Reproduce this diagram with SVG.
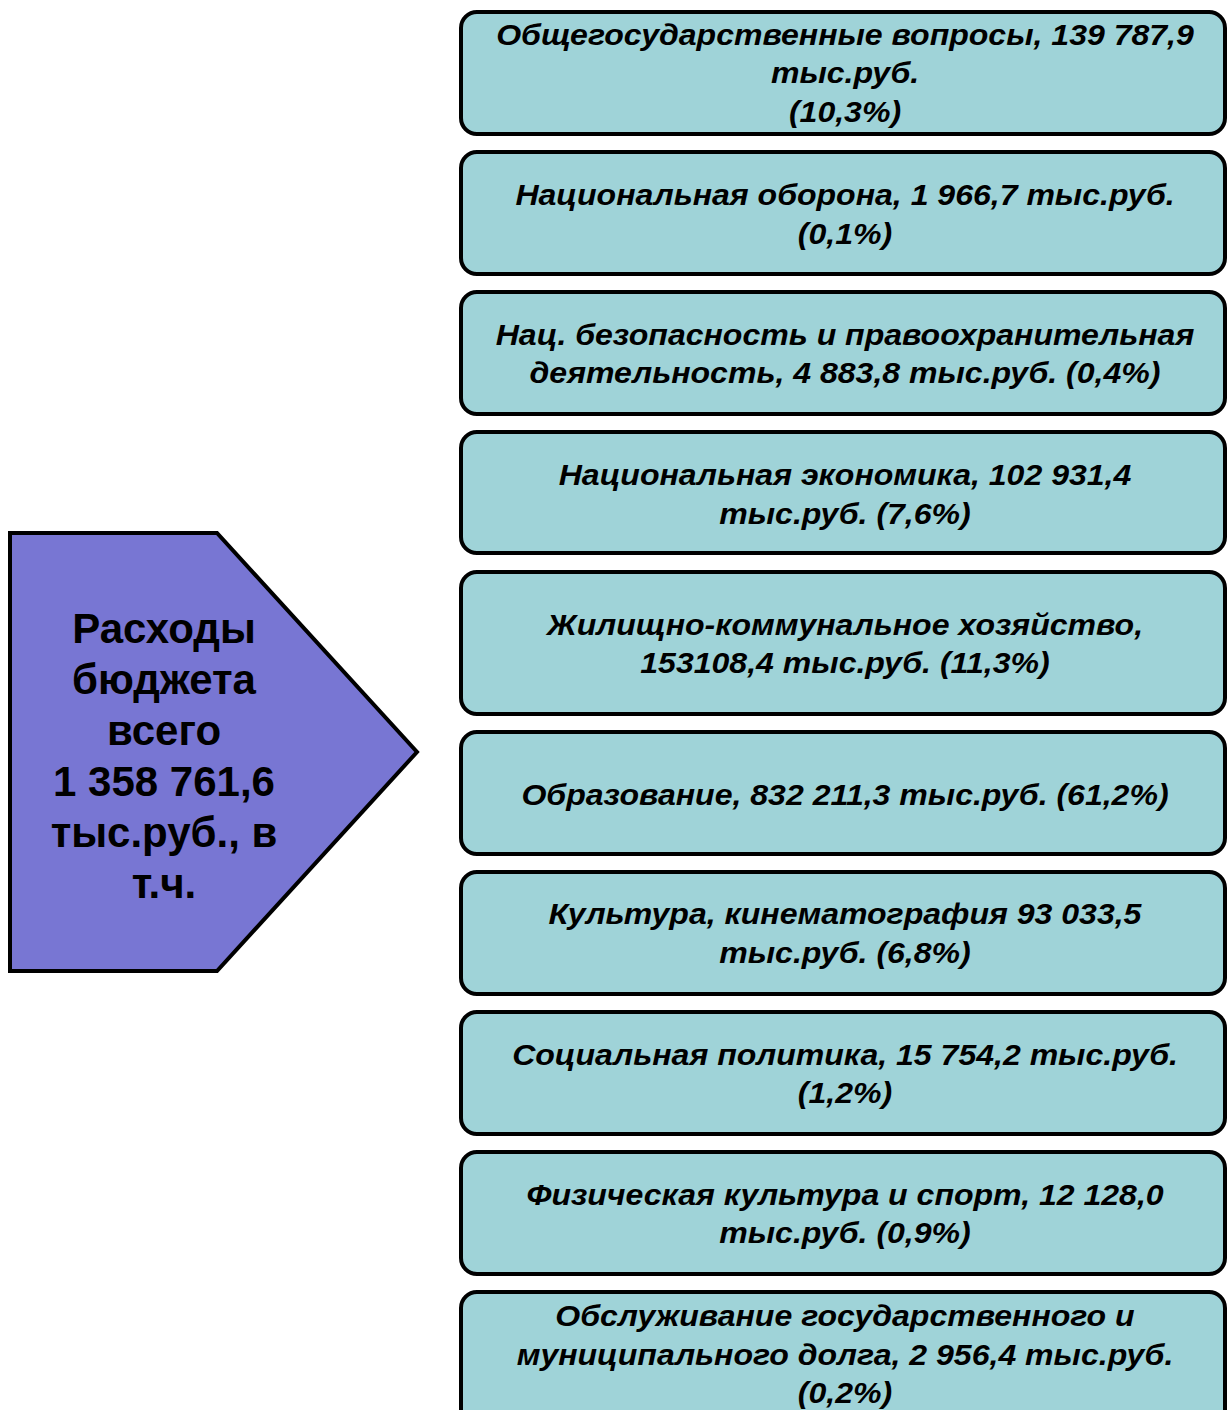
<svg xmlns="http://www.w3.org/2000/svg" width="1227" height="1410" viewBox="0 0 1227 1410">
<style>
.box{fill:#9fd3d8;stroke:#000;stroke-width:4}
.t{font-family:"Liberation Sans",Arial,sans-serif;font-weight:bold;font-style:italic;font-size:29px;fill:#000;text-anchor:middle}
.m{font-family:"Liberation Sans",Arial,sans-serif;font-weight:bold;font-size:42px;fill:#000;text-anchor:middle}
</style>
<rect width="1227" height="1410" fill="#fff"/>
<g id="total">
<polygon points="10,533 217,533 417,752 217,971 10,971" fill="#7876d3" stroke="#000" stroke-width="4"/>
<text class="m" x="164" y="643">Расходы</text>
<text class="m" x="164" y="694">бюджета</text>
<text class="m" x="164" y="745">всего</text>
<text class="m" x="164" y="796">1 358 761,6</text>
<text class="m" x="164" y="847">тыс.руб., в</text>
<text class="m" x="164" y="898">т.ч.</text>
</g>
<g id="connectors"></g>
<g id="n1"><rect class="box" x="461" y="12" width="764" height="122" rx="16"/>
<g transform="translate(845 0) scale(1.105 1)">
<text class="t" x="0" y="45">Общегосударственные вопросы, 139 787,9</text>
<text class="t" x="0" y="83">тыс.руб.</text>
<text class="t" x="0" y="122">(10,3%)</text></g></g>
<g id="n2"><rect class="box" x="461" y="152" width="764" height="122" rx="16"/>
<g transform="translate(845 0) scale(1.105 1)">
<text class="t" x="0" y="205">Национальная оборона, 1 966,7 тыс.руб.</text>
<text class="t" x="0" y="244">(0,1%)</text></g></g>
<g id="n3"><rect class="box" x="461" y="292" width="764" height="122" rx="16"/>
<g transform="translate(845 0) scale(1.105 1)">
<text class="t" x="0" y="345">Нац. безопасность и правоохранительная</text>
<text class="t" x="0" y="383">деятельность, 4 883,8 тыс.руб. (0,4%)</text></g></g>
<g id="n4"><rect class="box" x="461" y="432" width="764" height="121" rx="16"/>
<g transform="translate(845 0) scale(1.105 1)">
<text class="t" x="0" y="485">Национальная экономика, 102 931,4</text>
<text class="t" x="0" y="524">тыс.руб. (7,6%)</text></g></g>
<g id="n5"><rect class="box" x="461" y="572" width="764" height="142" rx="16"/>
<g transform="translate(845 0) scale(1.105 1)">
<text class="t" x="0" y="635">Жилищно-коммунальное хозяйство,</text>
<text class="t" x="0" y="673">153108,4 тыс.руб. (11,3%)</text></g></g>
<g id="n6"><rect class="box" x="461" y="732" width="764" height="122" rx="16"/>
<g transform="translate(845 0) scale(1.105 1)">
<text class="t" x="0" y="805">Образование, 832 211,3 тыс.руб. (61,2%)</text></g></g>
<g id="n7"><rect class="box" x="461" y="872" width="764" height="122" rx="16"/>
<g transform="translate(845 0) scale(1.105 1)">
<text class="t" x="0" y="924">Культура, кинематография 93 033,5</text>
<text class="t" x="0" y="963">тыс.руб. (6,8%)</text></g></g>
<g id="n8"><rect class="box" x="461" y="1012" width="764" height="122" rx="16"/>
<g transform="translate(845 0) scale(1.105 1)">
<text class="t" x="0" y="1065">Социальная политика, 15 754,2 тыс.руб.</text>
<text class="t" x="0" y="1103">(1,2%)</text></g></g>
<g id="n9"><rect class="box" x="461" y="1152" width="764" height="122" rx="16"/>
<g transform="translate(845 0) scale(1.105 1)">
<text class="t" x="0" y="1205">Физическая культура и спорт, 12 128,0</text>
<text class="t" x="0" y="1243">тыс.руб. (0,9%)</text></g></g>
<g id="n10"><rect class="box" x="461" y="1292" width="764" height="140" rx="16"/>
<g transform="translate(845 0) scale(1.105 1)">
<text class="t" x="0" y="1326">Обслуживание государственного и</text>
<text class="t" x="0" y="1365">муниципального долга, 2 956,4 тыс.руб.</text>
<text class="t" x="0" y="1403">(0,2%)</text></g></g>
</svg>
